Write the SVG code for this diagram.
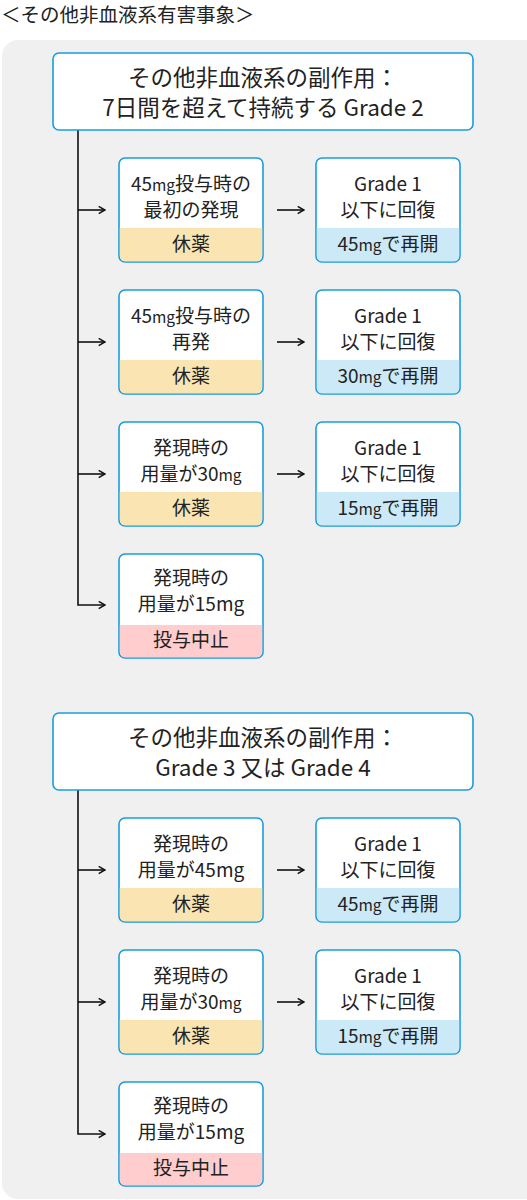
<svg xmlns="http://www.w3.org/2000/svg" width="527" height="1200" viewBox="0 0 527 1200">
<defs>
<style>
text{font-family:"Noto Sans CJK JP","Noto Sans",sans-serif;fill:#222;text-anchor:middle}
.t{font-size:19.5px;text-anchor:start}
.h{font-size:22.5px}
.n{font-size:19px}
.s{font-size:15.5px}
.box{fill:#fff;stroke:#1a9de0;stroke-width:1.6}
.edge{fill:none;stroke:#111;stroke-width:1.6}
.y{fill:#f9e4b2}
.b{fill:#cce9f7}
.p{fill:#ffcdcd}
</style>
<marker id="ar" viewBox="0 0 10 10" refX="9" refY="5" markerWidth="9" markerHeight="9" markerUnits="userSpaceOnUse" orient="auto">
<path d="M2,1 L9,5 L2,9" fill="none" stroke="#111" stroke-width="1.6"/>
</marker>
</defs>
<rect width="527" height="1200" fill="#fff"/>
<text class="t" x="1" y="22">＜その他非血液系有害事象＞</text>
<rect x="2" y="40" width="540" height="1159" rx="16" fill="#f0f0f0"/>

<g id="connectors">
<path class="edge" d="M78,210 H105" marker-end="url(#ar)"/>
<path class="edge" d="M78,342 H105" marker-end="url(#ar)"/>
<path class="edge" d="M78,474 H105" marker-end="url(#ar)"/>
<path class="edge" d="M78,130 V605 H105" marker-end="url(#ar)"/>
<path class="edge" d="M277,210 H304" marker-end="url(#ar)"/>
<path class="edge" d="M277,342 H304" marker-end="url(#ar)"/>
<path class="edge" d="M277,474 H304" marker-end="url(#ar)"/>
<path class="edge" d="M78,790 V1134 H105" marker-end="url(#ar)"/>
<path class="edge" d="M78,870 H105" marker-end="url(#ar)"/>
<path class="edge" d="M78,1002 H105" marker-end="url(#ar)"/>
<path class="edge" d="M277,870 H304" marker-end="url(#ar)"/>
<path class="edge" d="M277,1002 H304" marker-end="url(#ar)"/>
</g>

<g id="h1">
<rect class="box" x="53" y="53" width="420" height="77" rx="6"/>
<text class="h" x="263" y="86">その他非血液系の副作用：</text>
<text class="h" x="263" y="116">7日間を超えて持続する Grade 2</text>
</g>

<g id="n1a">
<rect class="box" x="119" y="158" width="144" height="104" rx="6"/>
<path class="y" d="M119.8,228 H262.2 V256 a5.2,5.2 0 0 1 -5.2,5.2 H125 a5.2,5.2 0 0 1 -5.2,-5.2 Z"/>
<text class="n" x="191" y="191">45<tspan class="s">mg</tspan>投与時の</text>
<text class="n" x="191" y="217">最初の発現</text>
<text class="n" x="191" y="251">休薬</text>
</g>
<g id="n1b">
<rect class="box" x="316" y="158" width="144" height="104" rx="6"/>
<path class="b" d="M316.8,228 H459.2 V256 a5.2,5.2 0 0 1 -5.2,5.2 H322 a5.2,5.2 0 0 1 -5.2,-5.2 Z"/>
<text class="n" x="388" y="191">Grade 1</text>
<text class="n" x="388" y="217">以下に回復</text>
<text class="n" x="388" y="251">45<tspan class="s">mg</tspan>で再開</text>
</g>

<g id="n2a">
<rect class="box" x="119" y="290" width="144" height="104" rx="6"/>
<path class="y" d="M119.8,360 H262.2 V388 a5.2,5.2 0 0 1 -5.2,5.2 H125 a5.2,5.2 0 0 1 -5.2,-5.2 Z"/>
<text class="n" x="191" y="323">45<tspan class="s">mg</tspan>投与時の</text>
<text class="n" x="191" y="349">再発</text>
<text class="n" x="191" y="383">休薬</text>
</g>
<g id="n2b">
<rect class="box" x="316" y="290" width="144" height="104" rx="6"/>
<path class="b" d="M316.8,360 H459.2 V388 a5.2,5.2 0 0 1 -5.2,5.2 H322 a5.2,5.2 0 0 1 -5.2,-5.2 Z"/>
<text class="n" x="388" y="323">Grade 1</text>
<text class="n" x="388" y="349">以下に回復</text>
<text class="n" x="388" y="383">30<tspan class="s">mg</tspan>で再開</text>
</g>

<g id="n3a">
<rect class="box" x="119" y="422" width="144" height="104" rx="6"/>
<path class="y" d="M119.8,492 H262.2 V520 a5.2,5.2 0 0 1 -5.2,5.2 H125 a5.2,5.2 0 0 1 -5.2,-5.2 Z"/>
<text class="n" x="191" y="455">発現時の</text>
<text class="n" x="191" y="481">用量が30<tspan class="s">mg</tspan></text>
<text class="n" x="191" y="515">休薬</text>
</g>
<g id="n3b">
<rect class="box" x="316" y="422" width="144" height="104" rx="6"/>
<path class="b" d="M316.8,492 H459.2 V520 a5.2,5.2 0 0 1 -5.2,5.2 H322 a5.2,5.2 0 0 1 -5.2,-5.2 Z"/>
<text class="n" x="388" y="455">Grade 1</text>
<text class="n" x="388" y="481">以下に回復</text>
<text class="n" x="388" y="515">15<tspan class="s">mg</tspan>で再開</text>
</g>

<g id="n4a">
<rect class="box" x="119" y="554" width="144" height="104" rx="6"/>
<path class="p" d="M119.8,625 H262.2 V652 a5.2,5.2 0 0 1 -5.2,5.2 H125 a5.2,5.2 0 0 1 -5.2,-5.2 Z"/>
<text class="n" x="191" y="585">発現時の</text>
<text class="n" x="191" y="611">用量が15mg</text>
<text class="n" x="191" y="647">投与中止</text>
</g>

<g id="h2">
<rect class="box" x="53" y="713" width="420" height="77" rx="6"/>
<text class="h" x="263" y="746">その他非血液系の副作用：</text>
<text class="h" x="263" y="776">Grade 3 又は Grade 4</text>
</g>

<g id="n5a">
<rect class="box" x="119" y="818" width="144" height="104" rx="6"/>
<path class="y" d="M119.8,888 H262.2 V916 a5.2,5.2 0 0 1 -5.2,5.2 H125 a5.2,5.2 0 0 1 -5.2,-5.2 Z"/>
<text class="n" x="191" y="851">発現時の</text>
<text class="n" x="191" y="877">用量が45mg</text>
<text class="n" x="191" y="911">休薬</text>
</g>
<g id="n5b">
<rect class="box" x="316" y="818" width="144" height="104" rx="6"/>
<path class="b" d="M316.8,888 H459.2 V916 a5.2,5.2 0 0 1 -5.2,5.2 H322 a5.2,5.2 0 0 1 -5.2,-5.2 Z"/>
<text class="n" x="388" y="851">Grade 1</text>
<text class="n" x="388" y="877">以下に回復</text>
<text class="n" x="388" y="911">45<tspan class="s">mg</tspan>で再開</text>
</g>

<g id="n6a">
<rect class="box" x="119" y="950" width="144" height="104" rx="6"/>
<path class="y" d="M119.8,1020 H262.2 V1048 a5.2,5.2 0 0 1 -5.2,5.2 H125 a5.2,5.2 0 0 1 -5.2,-5.2 Z"/>
<text class="n" x="191" y="983">発現時の</text>
<text class="n" x="191" y="1009">用量が30<tspan class="s">mg</tspan></text>
<text class="n" x="191" y="1043">休薬</text>
</g>
<g id="n6b">
<rect class="box" x="316" y="950" width="144" height="104" rx="6"/>
<path class="b" d="M316.8,1020 H459.2 V1048 a5.2,5.2 0 0 1 -5.2,5.2 H322 a5.2,5.2 0 0 1 -5.2,-5.2 Z"/>
<text class="n" x="388" y="983">Grade 1</text>
<text class="n" x="388" y="1009">以下に回復</text>
<text class="n" x="388" y="1043">15<tspan class="s">mg</tspan>で再開</text>
</g>

<g id="n7a">
<rect class="box" x="119" y="1082" width="144" height="104" rx="6"/>
<path class="p" d="M119.8,1153 H262.2 V1180 a5.2,5.2 0 0 1 -5.2,5.2 H125 a5.2,5.2 0 0 1 -5.2,-5.2 Z"/>
<text class="n" x="191" y="1113">発現時の</text>
<text class="n" x="191" y="1139">用量が15mg</text>
<text class="n" x="191" y="1175">投与中止</text>
</g>
</svg>
